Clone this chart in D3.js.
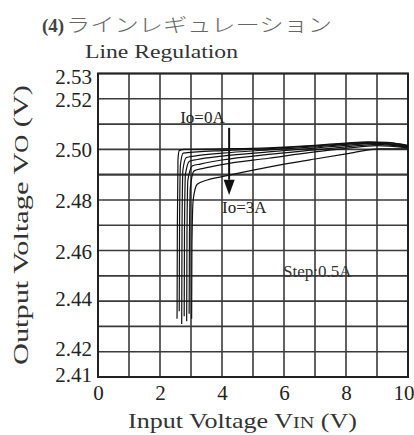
<!DOCTYPE html>
<html>
<head>
<meta charset="utf-8">
<script src="https://cdn.jsdelivr.net/npm/d3@7"></script>
<style>
  body { margin: 0; background: #fff; }
  text { font-family: "Liberation Serif", "Times New Roman", serif; }
</style>
</head>
<body>
<svg id="chart" width="414" height="435"></svg>
<script>
// tick labels
const xTicks = [0, 2, 4, 6, 8, 10];
const yTicks = [2.53, 2.52, 2.50, 2.48, 2.46, 2.44, 2.42, 2.41];

// measured curves, [input voltage, output voltage], one per load current
const curveIo00 = [[2.55, 2.433], [2.56, 2.470], [2.58, 2.496], [2.62, 2.4995], [2.8, 2.5000], [4, 2.5002], [5.5, 2.5006], [7, 2.5016], [8, 2.5025], [8.7, 2.5030], [9.3, 2.5028], [10, 2.5016]];
const curveIo05 = [[2.62, 2.436], [2.63, 2.470], [2.66, 2.494], [2.75, 2.4985], [3.2, 2.4990], [4, 2.4995], [5.5, 2.5003], [7, 2.5014], [8, 2.5022], [8.8, 2.5028], [9.4, 2.5026], [10, 2.5014]];
const curveIo10 = [[2.70, 2.431], [2.71, 2.468], [2.74, 2.492], [2.85, 2.4968], [3.2, 2.4975], [4, 2.4985], [5.5, 2.4998], [7, 2.5010], [8, 2.5020], [9, 2.5026], [10, 2.5012]];
const curveIo15 = [[2.78, 2.434], [2.79, 2.468], [2.82, 2.490], [2.95, 2.4953], [3.2, 2.4960], [4, 2.4973], [5.5, 2.4990], [7, 2.5005], [8, 2.5016], [9, 2.5024], [10, 2.5010]];
const curveIo20 = [[2.86, 2.432], [2.87, 2.466], [2.90, 2.488], [3.05, 2.4935], [3.3, 2.4942], [4, 2.4958], [5.5, 2.4980], [7, 2.4998], [8, 2.5010], [9, 2.5020], [10, 2.5008]];
const curveIo25 = [[2.94, 2.435], [2.95, 2.466], [2.98, 2.485], [3.1, 2.4915], [3.4, 2.4925], [4, 2.4940], [5.5, 2.4965], [7, 2.4990], [8, 2.5004], [9, 2.5015], [10, 2.5006]];
const curveIo30 = [[3.02, 2.433], [3.03, 2.462], [3.07, 2.480], [3.2, 2.4862], [3.5, 2.4878], [4, 2.4892], [5.5, 2.4930], [7, 2.4962], [8, 2.4982], [9.1, 2.5002], [10, 2.5002]];
const curves = [curveIo00, curveIo05, curveIo10, curveIo15, curveIo20, curveIo25, curveIo30];

const svg = d3.select("#chart");
const margin = { left: 98, right: 6, top: 73.5, bottom: 58 };
const W = 414, H = 435;
const serif = "'Liberation Serif', 'Times New Roman', serif";

var x = d3.scaleLinear().domain([0, 10]).range([margin.left, W - margin.right]);
var y = d3.scaleLinear().domain([2.41, 2.53]).range([H - margin.bottom, margin.top]);

// titles
svg.append("text")
  .attr("x", 42).attr("y", 32)
  .style("font-family", serif)
  .style("font-size", "19px").style("font-weight", "bold").attr("fill", "#444")
  .text("(4)");
svg.append("text")
  .attr("x", 66).attr("y", 32)
  .attr("textLength", 266).attr("lengthAdjust", "spacingAndGlyphs")
  .style("font-family", "'Noto Sans CJK JP', sans-serif")
  .style("font-size", "19px").style("font-weight", 300).attr("fill", "#666")
  .text("ラインレギュレーション");
svg.append("text")
  .attr("x", 85).attr("y", 58)
  .attr("textLength", 153).attr("lengthAdjust", "spacingAndGlyphs")
  .style("font-family", serif)
  .style("font-size", "19px").attr("fill", "#333")
  .text("Line Regulation");

// grid
var grid = svg.append("g").attr("stroke", "#3a3a3a").attr("stroke-width", 1.6);
grid.selectAll(".gx")
  .data(d3.range(0, 11))
  .enter().append("line")
  .attr("x1", d => x(d)).attr("x2", d => x(d))
  .attr("y1", y(2.41)).attr("y2", y(2.53));
grid.selectAll(".gy")
  .data(d3.range(0, 13).map(i => 2.41 + i * 0.01))
  .enter().append("line")
  .attr("x1", x(0)).attr("x2", x(10))
  .attr("y1", d => y(d)).attr("y2", d => y(d))
  .attr("stroke-width", (d, i) => i === 8 ? 2.2 : 1.6);
svg.append("rect")
  .attr("x", x(0)).attr("y", y(2.53))
  .attr("width", x(10) - x(0)).attr("height", y(2.41) - y(2.53))
  .attr("fill", "none").attr("stroke", "#222").attr("stroke-width", 2);

// axes (labels only)
var xAxis = svg.append("g")
  .attr("transform", "translate(0," + (H - margin.bottom) + ")")
  .call(d3.axisBottom(x).tickValues(xTicks).tickSize(0).tickPadding(8).tickFormat(d3.format("d")));
var yAxis = svg.append("g")
  .attr("transform", "translate(" + margin.left + ",0)")
  .call(d3.axisLeft(y).tickValues(yTicks).tickSize(0).tickPadding(6).tickFormat(d3.format(".2f")));
[xAxis, yAxis].forEach(function(a) {
  a.select(".domain").remove();
  a.selectAll("text")
    .style("font-family", serif)
    .style("font-size", "21px")
    .attr("fill", "#222");
});
yAxis.selectAll(".tick text")
  .attr("dy", d => d === 2.53 ? "0.48em" : (d <= 2.44 ? "0.2em" : "0.36em"));
// keep the last x label inside the picture
xAxis.selectAll(".tick text")
  .attr("text-anchor", d => d === 10 ? "end" : "middle")
  .attr("dx", d => d === 10 ? 6 : 0);

// curves
var line = d3.line()
  .x(d => x(d[0]))
  .y(d => y(d[1]))
  .curve(d3.curveMonotoneX);
svg.append("g")
  .selectAll("path")
  .data(curves)
  .enter().append("path")
  .attr("d", line)
  .attr("fill", "none")
  .attr("stroke", "#111")
  .attr("stroke-width", 1.2);

// annotations
svg.append("text")
  .attr("x", x(2.65)).attr("y", y(2.5105))
  .style("font-family", serif)
  .style("font-size", "17px").attr("fill", "#222")
  .text("Io=0A");
svg.append("line")
  .attr("x1", x(4.23)).attr("x2", x(4.23))
  .attr("y1", y(2.5085)).attr("y2", y(2.488))
  .attr("stroke", "#111").attr("stroke-width", 2);
svg.append("path")
  .attr("d", "M" + (x(4.23) - 5.5) + "," + y(2.488) + "L" + (x(4.23) + 5.5) + "," + y(2.488) + "L" + x(4.23) + "," + y(2.482) + "Z")
  .attr("fill", "#111");
svg.append("text")
  .attr("x", x(4.0)).attr("y", y(2.4749))
  .style("font-family", serif)
  .style("font-size", "17px").attr("fill", "#222")
  .text("Io=3A");
svg.append("text")
  .attr("x", x(5.97)).attr("y", y(2.4497))
  .style("font-family", serif)
  .style("font-size", "17px").attr("fill", "#333")
  .text("Step:0.5A");

// axis titles
var xt = svg.append("text")
  .attr("x", 128).attr("y", 428)
  .attr("textLength", 229).attr("lengthAdjust", "spacingAndGlyphs")
  .style("font-family", serif)
  .style("font-size", "22px").attr("fill", "#333");
xt.append("tspan").text("Input Voltage V");
xt.append("tspan").style("font-size", "17px").text("IN");
xt.append("tspan").text(" (V)");

var yt = svg.append("text")
  .attr("transform", "translate(28,365) rotate(-90)")
  .attr("textLength", 280).attr("lengthAdjust", "spacingAndGlyphs")
  .style("font-family", serif)
  .style("font-size", "22px").attr("fill", "#333");
yt.append("tspan").text("Output Voltage V");
yt.append("tspan").style("font-size", "18px").text("O");
yt.append("tspan").text(" (V)");
</script>
</body>
</html>
